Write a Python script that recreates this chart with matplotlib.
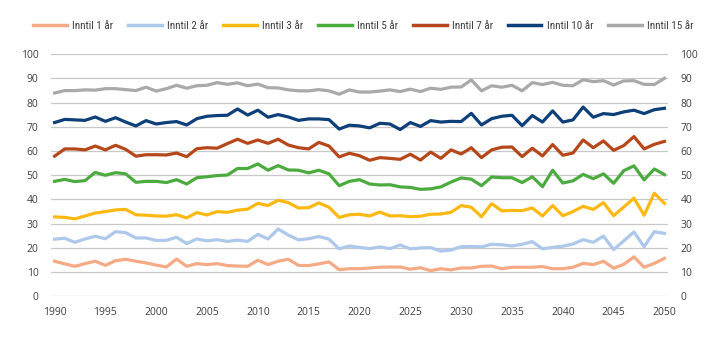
import numpy as np
import matplotlib
matplotlib.use("Agg")
import matplotlib.pyplot as plt
from matplotlib import font_manager

# years 1990-2050
years = list(range(1990, 2051))

# share (%) still in place after n years
inntil_1 = [14.5, 13.4, 12.4, 13.5, 14.5, 12.8, 14.7, 15.3, 14.5, 13.8,
            12.9, 12.1, 15.4, 12.4, 13.5, 13.1, 13.5, 12.7, 12.5, 12.4,
            14.9, 13.1, 14.5, 15.3, 12.8, 12.7, 13.4, 14.2, 11.0, 11.4,
            11.4, 11.7, 12.0, 12.1, 12.1, 11.2, 11.8, 10.6, 11.4, 10.9,
            11.7, 11.7, 12.4, 12.5, 11.4, 12.0, 12.0, 12.0, 12.3, 11.4,
            11.4, 12.0, 13.6, 13.1, 14.5, 11.6, 13.2, 16.3, 12.0, 13.6,
            15.7]
inntil_2 = [23.6, 24.0, 22.3, 23.7, 24.8, 23.8, 26.7, 26.3, 24.1, 24.1,
            23.1, 23.1, 24.4, 21.8, 23.7, 22.9, 23.4, 22.7, 23.2, 22.7,
            25.6, 23.7, 27.8, 25.3, 23.3, 23.8, 24.7, 23.6, 19.6, 20.8,
            20.2, 19.7, 20.4, 19.7, 21.2, 19.6, 20.0, 20.1, 18.7, 19.1,
            20.5, 20.6, 20.4, 21.5, 21.3, 20.8, 21.5, 22.6, 19.6, 20.2,
            20.7, 21.6, 23.4, 22.3, 24.9, 19.3, 22.9, 26.6, 20.5, 26.7,
            26.0]
inntil_3 = [32.8, 32.6, 32.0, 33.2, 34.4, 35.0, 35.7, 35.9, 33.7, 33.5,
            33.2, 33.1, 33.7, 32.4, 34.6, 33.6, 35.0, 34.7, 35.6, 36.0,
            38.4, 37.5, 39.7, 38.7, 36.5, 36.6, 38.6, 36.8, 32.6, 33.7,
            33.9, 33.2, 34.8, 33.2, 33.3, 32.9, 33.1, 33.9, 34.0, 34.7,
            37.5, 36.8, 32.9, 38.3, 35.3, 35.5, 35.4, 36.5, 33.2, 37.5,
            33.3, 35.0, 37.2, 35.9, 38.7, 33.3, 36.9, 40.6, 33.5, 42.6,
            38.4]
inntil_5 = [47.5, 48.3, 47.4, 47.8, 51.2, 50.0, 51.1, 50.6, 47.1, 47.5,
            47.5, 47.0, 48.2, 46.4, 49.0, 49.4, 49.9, 50.1, 52.8, 52.8,
            54.7, 52.1, 54.0, 52.2, 52.1, 51.0, 52.1, 50.6, 45.7, 47.5,
            48.2, 46.4, 46.0, 46.1, 45.2, 45.0, 44.2, 44.4, 45.2, 47.2,
            48.9, 48.4, 45.7, 49.3, 49.0, 49.0, 47.0, 49.4, 45.3, 52.1,
            46.8, 47.7, 50.4, 48.6, 50.6, 46.7, 51.9, 53.9, 48.1, 52.6,
            50.3]
inntil_7 = [57.9, 60.9, 60.9, 60.5, 62.1, 60.5, 62.4, 60.7, 57.9, 58.5,
            58.5, 58.4, 59.2, 57.7, 61.0, 61.4, 61.2, 63.1, 64.9, 63.2,
            64.6, 63.2, 64.9, 62.5, 61.4, 60.9, 63.6, 62.1, 57.6, 59.1,
            58.1, 56.2, 57.3, 57.0, 56.6, 58.7, 56.3, 59.6, 57.0, 60.5,
            58.8, 61.4, 57.3, 60.5, 61.6, 61.7, 57.7, 61.2, 58.0, 62.7,
            58.3, 59.2, 64.6, 61.4, 64.2, 60.3, 62.3, 66.0, 60.9, 62.8,
            64.0]
inntil_10 = [71.8, 73.1, 72.9, 72.7, 74.1, 72.3, 73.8, 72.0, 70.4, 72.6,
             71.2, 71.8, 72.2, 70.8, 73.4, 74.4, 74.7, 74.8, 77.4, 74.9,
             76.9, 74.0, 75.1, 74.1, 72.7, 73.3, 73.3, 73.0, 69.1, 70.7,
             70.4, 69.6, 71.5, 71.2, 68.9, 71.8, 70.2, 72.6, 72.0, 72.3,
             72.2, 75.6, 70.8, 73.4, 74.4, 74.8, 70.5, 74.7, 72.0, 76.6,
             72.0, 72.9, 78.2, 74.0, 75.5, 75.1, 76.2, 76.9, 75.5, 77.1,
             77.7]
inntil_15 = [84.0, 85.0, 85.0, 85.3, 85.2, 85.8, 85.8, 85.4, 85.0, 86.4,
             84.8, 85.8, 87.2, 86.0, 87.0, 87.2, 88.3, 87.6, 88.2, 87.0,
             87.7, 86.2, 86.1, 85.3, 84.9, 84.9, 85.4, 84.9, 83.5, 85.3,
             84.4, 84.4, 84.8, 85.3, 84.6, 85.6, 84.6, 86.0, 85.5, 86.4,
             86.5, 89.4, 84.9, 87.0, 86.4, 87.2, 84.9, 88.3, 87.5, 88.4,
             87.2, 87.0, 89.5, 88.7, 89.1, 87.3, 89.0, 89.1, 87.6, 87.5,
             90.1]

labels = ["Inntil 1 år", "Inntil 2 år", "Inntil 3 år", "Inntil 5 år",
          "Inntil 7 år", "Inntil 10 år", "Inntil 15 år"]
series = [inntil_1, inntil_2, inntil_3, inntil_5, inntil_7, inntil_10, inntil_15]
colours = ["#F5AA86", "#ADC8EA", "#FDB913", "#4CAB3F", "#B5471B", "#0E3F79", "#A9A9A9"]

x_ticks = list(range(1990, 2051, 5))
y_ticks = list(range(0, 101, 10))

# pick a narrow font for the legend if one is around
installed = set(f.name for f in font_manager.fontManager.ttflist)
legend_font = "DejaVu Sans"
for name in ["Liberation Sans Narrow", "Roboto Condensed", "DejaVu Sans Condensed",
             "Open Sans Condensed", "Noto Sans Condensed"]:
    if name in installed:
        legend_font = name
        break

fig = plt.figure(figsize=(7.2, 3.41), dpi=100)
ax = fig.add_axes([51 / 720, 1 - 296.3 / 341, (668 - 51) / 720, (296.3 - 54.3) / 341])

for vals, lab, col in zip(series, labels, colours):
    ax.plot(years, vals, color=col, linewidth=2.3, label=lab)

ax.set_xlim(1989.65, 2050.35)
ax.set_ylim(0, 100)
ax.set_xticks(x_ticks)
ax.set_yticks(y_ticks)
ax.grid(axis="y", color="#C8C8C8", linewidth=0.9)
ax.set_axisbelow(True)
for s in ax.spines.values():
    s.set_visible(False)

tick_font = "Open Sans"
ax.tick_params(axis="y", length=0, pad=9, labelsize=7.5, labelcolor="#404040",
               labelright=True, right=False)
ax.tick_params(axis="x", length=0, pad=8, labelsize=7.5, labelcolor="#404040")
for t in ax.xaxis.majorTicks + ax.yaxis.majorTicks:
    t.label1.set_family(tick_font)
    t.label2.set_family(tick_font)

# legend, shrink the font until it fits the width used in the reference
size = 8.5
while True:
    leg = fig.legend(loc="center", bbox_to_anchor=(0.505, 1 - 26 / 341), ncol=7, frameon=False,
                     handlelength=3.0 * 8 / size, handletextpad=0.5, columnspacing=1.35,
                     borderpad=0, prop={"family": [legend_font, "DejaVu Sans"], "size": size})
    fig.canvas.draw()
    w = leg.get_window_extent().width
    if w <= 665 or size < 5:
        break
    leg.remove()
    size -= 0.25
for t in leg.get_texts():
    t.set_color("#404040")
for h in leg.get_lines():
    h.set_linewidth(2.5)

plt.savefig("out.png", dpi=100)
